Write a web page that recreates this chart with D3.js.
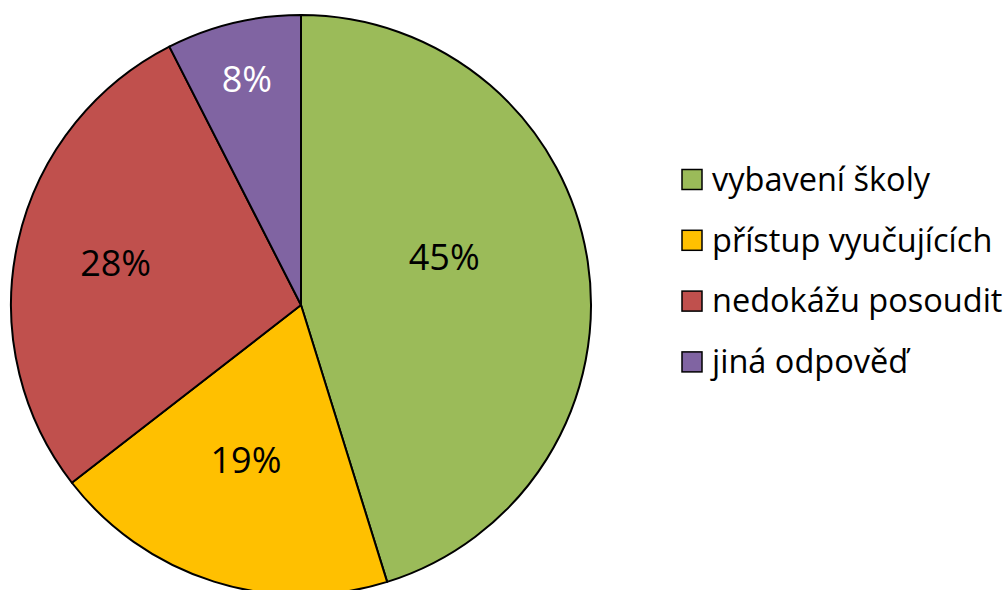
<!DOCTYPE html>
<html>
<head>
<meta charset="utf-8">
<script src="https://cdn.jsdelivr.net/npm/d3@7"></script>
<style>
  body { margin: 0; background: #fff; }
  text { font-family: "Open Sans", "Noto Sans", sans-serif; }
</style>
</head>
<body>
<div id="chart"></div>
<script>
const categories = ["vybavení školy", "přístup vyučujících", "nedokážu posoudit", "jiná odpověď"];
const values = [45.2, 19.3, 28.0, 7.5];
const labels = ["45%", "19%", "28%", "8%"];
const colors = ["#9BBB59", "#FFC000", "#C0504D", "#8064A2"];
const labelColors = ["#000", "#000", "#000", "#fff"];
// label placement: radius fraction and angle shift (degrees)
const labelRadius = [0.52, 0.57, 0.655, 0.80];
const labelShift = [-9.6, 2, 0, 0];

const w = 1004, h = 590;
const cx = 301, cy = 305, r = 290;

const svg = d3.select("#chart").append("svg")
  .attr("width", w).attr("height", h);

const pie = d3.pie().sort(null).value(d => d);
const arcs = pie(values);
const arc = d3.arc().innerRadius(0).outerRadius(r);

const g = svg.append("g").attr("transform", "translate(" + cx + "," + cy + ")");

g.selectAll("path").data(arcs).enter().append("path")
  .attr("d", arc)
  .attr("fill", (d, i) => colors[i])
  .attr("stroke", "#000")
  .attr("stroke-width", 2)
  .attr("stroke-linejoin", "round");

g.selectAll("text.lbl").data(arcs).enter().append("text")
  .attr("class", "lbl")
  .attr("transform", (d, i) => {
    const a = (d.startAngle + d.endAngle) / 2 + labelShift[i] * Math.PI / 180;
    const rr = r * labelRadius[i];
    return "translate(" + (rr * Math.sin(a)) + "," + (-rr * Math.cos(a)) + ")";
  })
  .attr("text-anchor", "middle")
  .attr("dy", "0.35em")
  .attr("font-size", 36)
  .attr("fill", (d, i) => labelColors[i])
  .text((d, i) => labels[i]);

// legend
const legend = svg.append("g").attr("transform", "translate(682,179.5)");
const rows = legend.selectAll("g").data(categories).enter().append("g")
  .attr("transform", (d, i) => "translate(0," + i * 60.8 + ")");
rows.append("rect")
  .attr("x", 0).attr("y", -10).attr("width", 20).attr("height", 20)
  .attr("fill", (d, i) => colors[i])
  .attr("stroke", "#000").attr("stroke-width", 1.5);
rows.append("text")
  .attr("x", 30).attr("dy", "0.35em")
  .attr("font-size", 32.5)
  .text(d => d);
</script>
</body>
</html>
